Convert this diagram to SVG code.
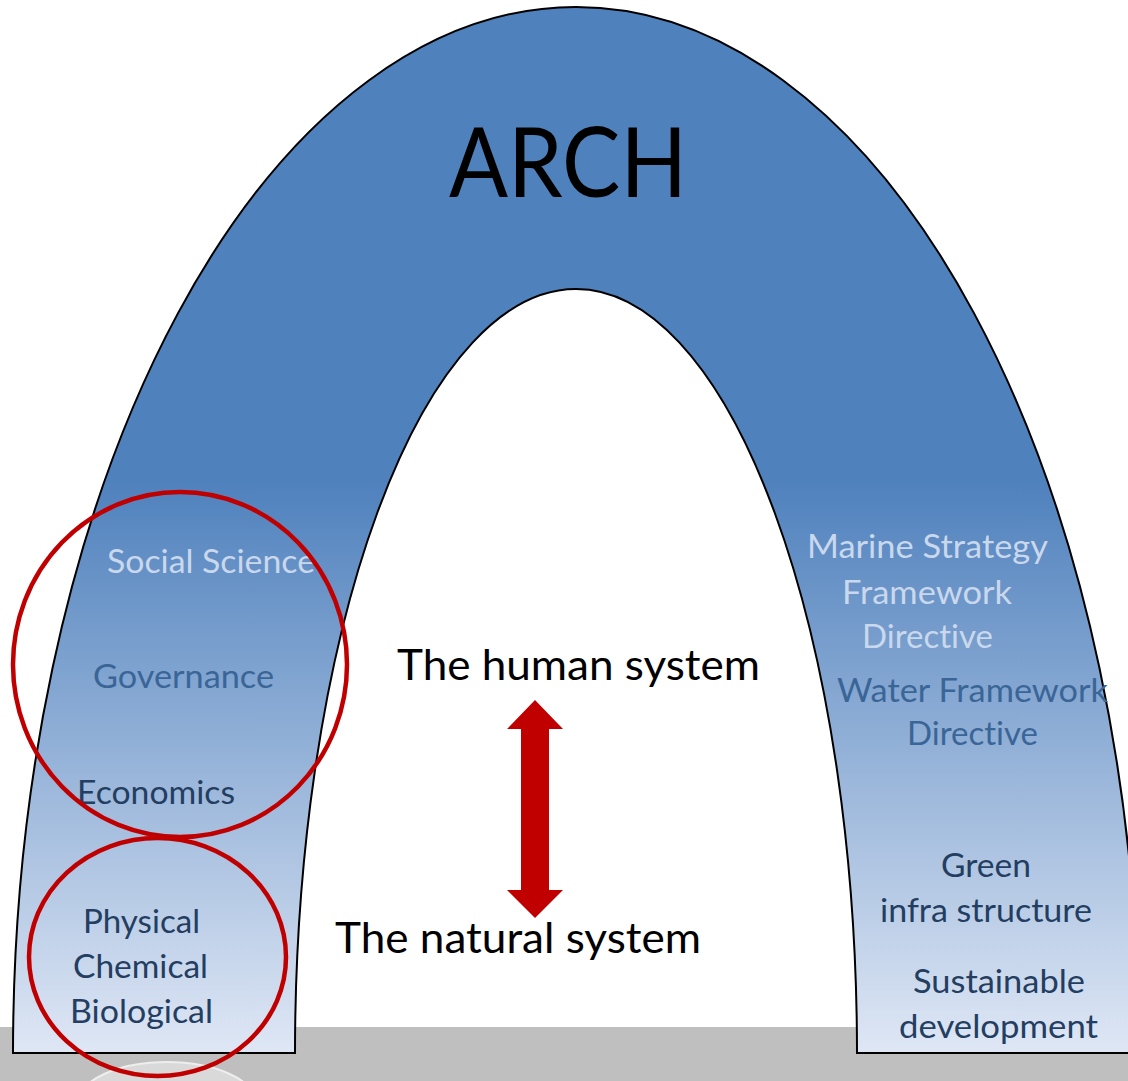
<svg xmlns="http://www.w3.org/2000/svg" width="1128" height="1081" viewBox="0 0 1128 1081">
  <style>
    .t { font-family: Lato, "Open Sans", "Liberation Sans", sans-serif; font-variant-ligatures: none; }
    .small { font-size: 32px; }
    .light { fill: #c9d8ec; }
    .mid { fill: #3a6597; }
    .dark { fill: #233e61; }
    .big { font-size: 43px; fill: #000000; }
    .ring { fill: none; stroke: #c00000; stroke-width: 4.5; }
  </style>
  <defs>
    <linearGradient id="archGrad" gradientUnits="userSpaceOnUse" x1="0" y1="480" x2="0" y2="1053">
      <stop offset="0" stop-color="#4f81bd"/>
      <stop offset="1" stop-color="#dfe7f5"/>
    </linearGradient>
  </defs>
  <rect x="0" y="0" width="1128" height="1081" fill="#ffffff"/>
  <g id="ground">
    <rect x="0" y="1027" width="1128" height="54" fill="#bfbfbf"/>
    <ellipse cx="167" cy="1102" rx="88" ry="40" fill="#d9d9d9" stroke="#eeeeee" stroke-width="2"/>
  </g>
  <g id="arch">
    <path d="M 13 1053 A 563 1046 0 0 1 1139 1053 L 857 1053 A 281 764 0 0 0 295 1053 Z" fill="url(#archGrad)" stroke="#000000" stroke-width="2"/>
    <text class="t" x="449" y="197" font-size="96" fill="#000000" textLength="238" lengthAdjust="spacingAndGlyphs">ARCH</text>
  </g>
  <g id="left-labels">
    <text class="t small light" x="107" y="573" textLength="208" lengthAdjust="spacingAndGlyphs">Social Science</text>
    <text class="t small mid" x="93" y="688" textLength="181" lengthAdjust="spacingAndGlyphs">Governance</text>
    <text class="t small dark" x="77" y="804" textLength="158" lengthAdjust="spacingAndGlyphs">Economics</text>
    <text class="t small dark" x="83" y="933" textLength="117" lengthAdjust="spacingAndGlyphs">Physical</text>
    <text class="t small dark" x="73" y="978" textLength="135" lengthAdjust="spacingAndGlyphs">Chemical</text>
    <text class="t small dark" x="70" y="1023" textLength="143" lengthAdjust="spacingAndGlyphs">Biological</text>
  </g>
  <g id="right-labels">
    <text class="t small light" x="807" y="558" textLength="241" lengthAdjust="spacingAndGlyphs">Marine Strategy</text>
    <text class="t small light" x="842" y="604" textLength="170" lengthAdjust="spacingAndGlyphs">Framework</text>
    <text class="t small light" x="862" y="648" textLength="131" lengthAdjust="spacingAndGlyphs">Directive</text>
    <text class="t small mid" x="837" y="702" textLength="271" lengthAdjust="spacingAndGlyphs">Water Framework</text>
    <text class="t small mid" x="907" y="745" textLength="131" lengthAdjust="spacingAndGlyphs">Directive</text>
    <text class="t small dark" x="941" y="877" textLength="90" lengthAdjust="spacingAndGlyphs">Green</text>
    <text class="t small dark" x="880" y="922" textLength="212" lengthAdjust="spacingAndGlyphs">infra structure</text>
    <text class="t small dark" x="913" y="993" textLength="172" lengthAdjust="spacingAndGlyphs">Sustainable</text>
    <text class="t small dark" x="899" y="1038" textLength="199" lengthAdjust="spacingAndGlyphs">development</text>
  </g>
  <g id="systems">
    <text class="t big" x="397" y="680" textLength="363" lengthAdjust="spacingAndGlyphs">The human system</text>
    <text class="t big" x="335" y="953" textLength="366" lengthAdjust="spacingAndGlyphs">The natural system</text>
  </g>
  <g id="connectors">
    <polygon points="535,700 563,729 549,729 549,890 563,890 535,918 507,890 521,890 521,729 507,729" fill="#c00000"/>
  </g>
  <g id="rings">
    <ellipse class="ring" cx="180" cy="664.5" rx="167" ry="172.5"/>
    <ellipse class="ring" cx="157.5" cy="957" rx="128.5" ry="119"/>
  </g>
</svg>
